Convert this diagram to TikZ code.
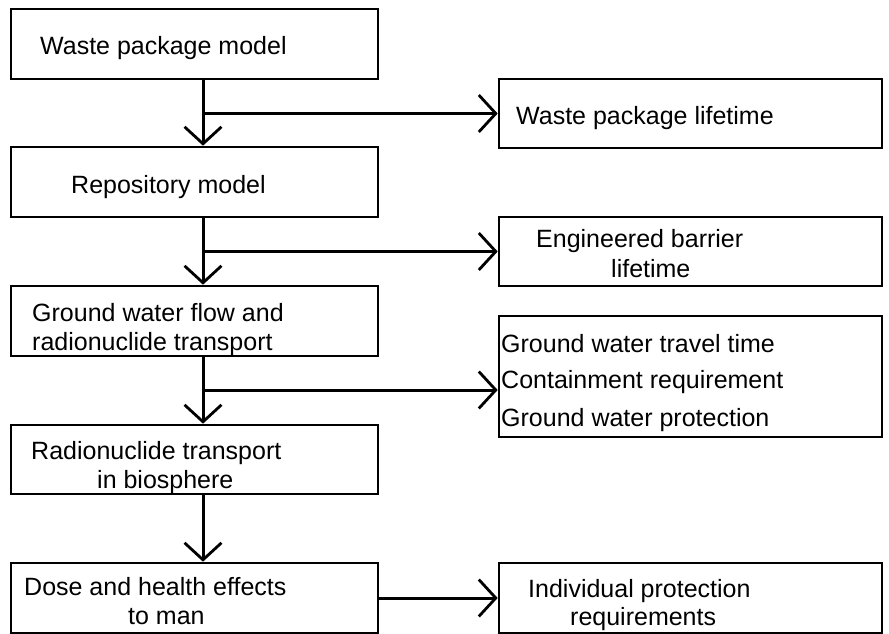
\documentclass[tikz,border=0pt]{standalone}
\usepackage{fontspec}
\setmainfont{Liberation Sans}
\usetikzlibrary{arrows.meta}
\begin{document}
\begin{tikzpicture}[x=1pt,y=-1pt,
  box/.style={draw=black,line width=2.6pt,rectangle,inner sep=0pt,minimum width=#1},
  lbox/.style={box=367pt,minimum height=70pt},
  rbox/.style={box=383pt,minimum height=69pt},
  txt/.style={anchor=base west,inner sep=0pt,font=\fontsize{25}{29}\selectfont},
  conn/.style={line width=3pt,-{Straight Barb[length=17pt,width=37pt,line width=2.8pt]}}]
\useasboundingbox (0,0) rectangle (889,634);
% left boxes
\node[lbox] (b1) at (194.5,44) {};
\node[lbox] (b2) at (194.5,182) {};
\node[lbox] (b3) at (194.5,321) {};
\node[lbox,minimum height=69pt] (b4) at (194.5,459.5) {};
\node[lbox] (b5) at (194.5,598) {};
% right boxes
\node[rbox] (r1) at (690.5,113.5) {};
\node[rbox] (r2) at (690.5,251.5) {};
\node[rbox,minimum height=121pt] (r3) at (690.5,376.5) {};
\node[rbox,minimum height=70pt] (r4) at (690.5,598) {};
% texts
\node[txt] (t1) at (40,55) {Waste package model};
\node[txt] (t2) at (71,193) {Repository model};
\node[txt] (t3a) at (32,321) {Ground water flow and};
\node[txt] (t3b) at (32,350) {radionuclide transport};
\node[txt] (t4a) at (31,459) {Radionuclide transport};
\node[txt] (t4b) at (97,488) {in biosphere};
\node[txt] (t5a) at (24,595) {Dose and health effects};
\node[txt] (t5b) at (128,624) {to man};
\node[txt] (s1) at (516,124) {Waste package lifetime};
\node[txt] (s2a) at (536,247) {Engineered barrier};
\node[txt] (s2b) at (611,277) {lifetime};
\node[txt] (s3a) at (501,352) {Ground water travel time};
\node[txt] (s3b) at (501,388) {Containment requirement};
\node[txt] (s3c) at (501,426) {Ground water protection};
\node[txt] (s4a) at (528,597) {Individual protection};
\node[txt] (s4b) at (570,625) {requirements};
% connector end points on the left boxes
\coordinate (d1) at ([xshift=8.5pt]b1.south);
\coordinate (u2) at ([xshift=8.5pt]b2.north);
\coordinate (d2) at ([xshift=8.5pt]b2.south);
\coordinate (u3) at ([xshift=8.5pt]b3.north);
\coordinate (d3) at ([xshift=8.5pt]b3.south);
\coordinate (u4) at ([xshift=8.5pt]b4.north);
\coordinate (d4) at ([xshift=8.5pt]b4.south);
\coordinate (u5) at ([xshift=8.5pt]b5.north);
% branch points
\coordinate (c1) at (d1 |- r1.west);
\coordinate (c2) at (d2 |- r2.west);
\coordinate (c3) at (203,390);
% vertical connectors
\draw[conn] (d1) -- (u2);
\draw[conn] (d2) -- (u3);
\draw[conn] (d3) -- (u4);
\draw[conn] (d4) -- (u5);
% horizontal connectors
\draw[conn] (c1) -- (r1.west);
\draw[conn] (c2) -- (r2.west);
\draw[conn] (c3) -- (c3 -| r3.west);
\draw[conn] (b5.east) -- (r4.west);
\end{tikzpicture}
\end{document}
